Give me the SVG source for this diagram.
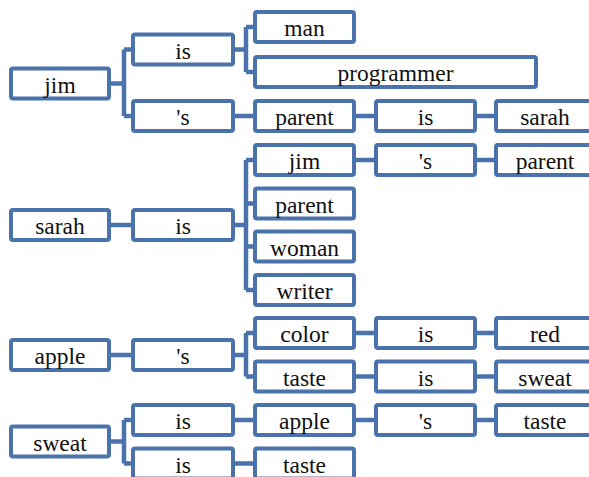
<svg xmlns="http://www.w3.org/2000/svg" width="589" height="477" viewBox="0 0 589 477">
<style>
.b rect{fill:#fff;stroke:#4a73ab;stroke-width:4;}
.b text{font-family:"Liberation Serif","Times New Roman",serif;font-size:23.5px;fill:#111;text-anchor:middle;}
#connectors path{fill:none;stroke:#4a73ab;stroke-width:4.5;}
</style>
<rect width="589" height="477" fill="#fff"/>
<g id="connectors">
<path d="M111 83.5H124M124 49.5V116M124 49.5H131M124 116H131"/>
<path d="M235 49.5H246M246 27V72M246 27H253M246 72H253"/>
<path d="M235 116H253M356 116H374M477 116H494"/>
<path d="M111 225H131M235 225H246M246 160V290M246 160H253M246 203.5H253M246 246.5H253M246 290H253"/>
<path d="M356 160H374M477 160H494"/>
<path d="M111 355H131M235 355H246M246 333V376.5M246 333H253M246 376.5H253"/>
<path d="M356 333H374M477 333H494M356 376.5H374M477 376.5H494"/>
<path d="M111 441.5H124M124 420V463.5M124 420H131M124 463.5H131"/>
<path d="M235 420H253M356 420H374M477 420H494M235 463.5H253"/>
</g>
<g id="n-jim" class="b"><rect x="11" y="68.5" width="98" height="30" rx="2"/><text x="60" y="92.5">jim</text></g>
<g id="n-jim-is" class="b"><rect x="133" y="34.5" width="100" height="30" rx="2"/><text x="183" y="58.5">is</text></g>
<g id="n-man" class="b"><rect x="255" y="12" width="99" height="30" rx="2"/><text x="304.5" y="36">man</text></g>
<g id="n-programmer" class="b"><rect x="255" y="57" width="281" height="30" rx="2"/><text x="395.5" y="81">programmer</text></g>
<g id="n-jim-s" class="b"><rect x="133" y="101" width="100" height="30" rx="2"/><text x="183" y="125">'s</text></g>
<g id="n-parent1" class="b"><rect x="255" y="101" width="99" height="30" rx="2"/><text x="304.5" y="125">parent</text></g>
<g id="n-is1" class="b"><rect x="376" y="101" width="99" height="30" rx="2"/><text x="425.5" y="125">is</text></g>
<g id="n-sarah1" class="b"><rect x="496" y="101" width="120" height="30" rx="2"/><text x="545" y="125">sarah</text></g>
<g id="n-sarah" class="b"><rect x="11" y="210" width="98" height="30" rx="2"/><text x="60" y="234">sarah</text></g>
<g id="n-sarah-is" class="b"><rect x="133" y="210" width="100" height="30" rx="2"/><text x="183" y="234">is</text></g>
<g id="n-jim2" class="b"><rect x="255" y="145" width="99" height="30" rx="2"/><text x="304.5" y="169">jim</text></g>
<g id="n-s2" class="b"><rect x="376" y="145" width="99" height="30" rx="2"/><text x="425.5" y="169">'s</text></g>
<g id="n-parent2" class="b"><rect x="496" y="145" width="120" height="30" rx="2"/><text x="545" y="169">parent</text></g>
<g id="n-parent3" class="b"><rect x="255" y="188.5" width="99" height="30" rx="2"/><text x="304.5" y="212.5">parent</text></g>
<g id="n-woman" class="b"><rect x="255" y="231.5" width="99" height="30" rx="2"/><text x="304.5" y="255.5">woman</text></g>
<g id="n-writer" class="b"><rect x="255" y="275" width="99" height="30" rx="2"/><text x="304.5" y="299">writer</text></g>
<g id="n-apple" class="b"><rect x="11" y="340" width="98" height="30" rx="2"/><text x="60" y="364">apple</text></g>
<g id="n-apple-s" class="b"><rect x="133" y="340" width="100" height="30" rx="2"/><text x="183" y="364">'s</text></g>
<g id="n-color" class="b"><rect x="255" y="318" width="99" height="30" rx="2"/><text x="304.5" y="342">color</text></g>
<g id="n-is3" class="b"><rect x="376" y="318" width="99" height="30" rx="2"/><text x="425.5" y="342">is</text></g>
<g id="n-red" class="b"><rect x="496" y="318" width="120" height="30" rx="2"/><text x="545" y="342">red</text></g>
<g id="n-taste1" class="b"><rect x="255" y="361.5" width="99" height="30" rx="2"/><text x="304.5" y="385.5">taste</text></g>
<g id="n-is4" class="b"><rect x="376" y="361.5" width="99" height="30" rx="2"/><text x="425.5" y="385.5">is</text></g>
<g id="n-sweat1" class="b"><rect x="496" y="361.5" width="120" height="30" rx="2"/><text x="545" y="385.5">sweat</text></g>
<g id="n-sweat" class="b"><rect x="11" y="426.5" width="98" height="30" rx="2"/><text x="60" y="450.5">sweat</text></g>
<g id="n-sweat-is1" class="b"><rect x="133" y="405" width="100" height="30" rx="2"/><text x="183" y="429">is</text></g>
<g id="n-apple2" class="b"><rect x="255" y="405" width="99" height="30" rx="2"/><text x="304.5" y="429">apple</text></g>
<g id="n-s5" class="b"><rect x="376" y="405" width="99" height="30" rx="2"/><text x="425.5" y="429">'s</text></g>
<g id="n-taste2" class="b"><rect x="496" y="405" width="120" height="30" rx="2"/><text x="545" y="429">taste</text></g>
<g id="n-sweat-is2" class="b"><rect x="133" y="448.5" width="100" height="30" rx="2"/><text x="183" y="472.5">is</text></g>
<g id="n-taste3" class="b"><rect x="255" y="448.5" width="99" height="30" rx="2"/><text x="304.5" y="472.5">taste</text></g>
</svg>
